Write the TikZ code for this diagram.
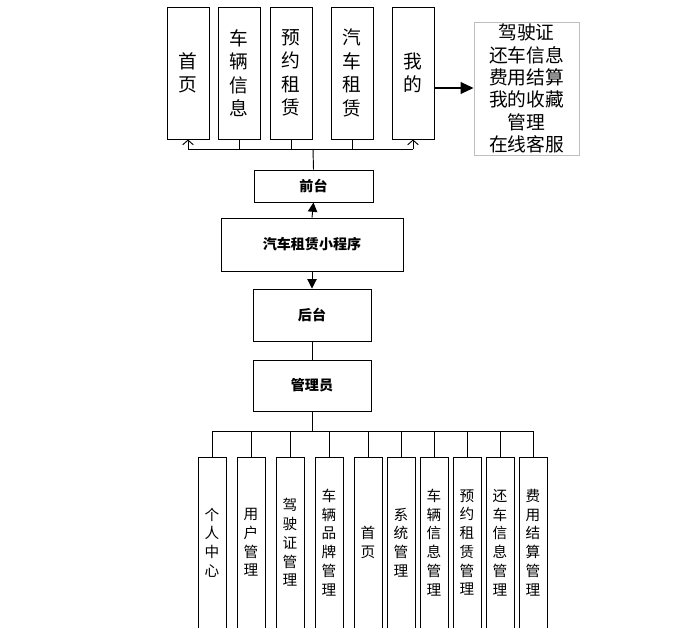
\documentclass[tikz,border=0pt]{standalone}
\usepackage{fontspec}
\setmainfont{Noto Sans CJK SC}
\usetikzlibrary{arrows.meta}
\tikzset{
  topbox/.style={draw,thick,minimum width=1.26cm,minimum height=3.96cm,inner sep=0pt,align=center,font=\fontsize{16}{20}\selectfont},
  midbox/.style={draw,thick,inner sep=0pt,font=\bfseries\fontsize{12}{14}\selectfont},
  subbox/.style={draw,thick,minimum width=0.84cm,minimum height=5.13cm,inner sep=0pt,align=center,font=\fontsize{12.5}{16}\selectfont},
}
\begin{document}
\begin{tikzpicture}[x=0.03cm,y=-0.03cm]
    \useasboundingbox (0,0) rectangle (678,628);
    % front end pages
    \node[topbox] (home) at (188,73) {首\\页};
    \node[topbox] (car) at (239,73) {车\\辆\\信\\息};
    \node[topbox] (book) at (291,73) {预\\约\\租\\赁};
    \node[topbox] (rent) at (352,73) {汽\\车\\租\\赁};
    \node[topbox] (mine) at (413,73) {我\\的};
    \node[draw=black!25,thick,minimum width=3.15cm,minimum height=3.99cm,inner sep=0pt,align=center,font=\fontsize{16}{19}\selectfont] (minelist) at (526.5,88.5) {驾驶证\\还车信息\\费用结算\\我的收藏\\管理\\在线客服};
    \draw[-{Triangle[length=11pt,width=10pt]},very thick] (mine.east |- 0,88) -- (minelist.west |- 0,88);
    % middle chain
    \node[midbox,minimum width=3.57cm,minimum height=0.96cm] (front) at (313.5,186) {前台};
    \node[midbox,minimum width=5.46cm,minimum height=1.59cm] (app) at (312,244.5) {汽车租赁小程序};
    \node[midbox,minimum width=3.54cm,minimum height=1.56cm] (back) at (312,315) {后台};
    \node[midbox,minimum width=3.54cm,minimum height=1.53cm] (admin) at (312,385.5) {管理员};
    \coordinate (topbus) at (313,149);
    \draw[thick] (front.north) -- (topbus);
    \draw[thick] (home.south |- topbus) -- (mine.south |- topbus);
    \foreach \n in {car,book,rent} \draw[thick] (\n.south) -- (\n.south |- topbus);
    \foreach \n in {home,mine} \draw[-{Straight Barb[length=4pt,width=9pt]},thick] (\n.south |- topbus) -- (\n.south);
    \draw[-{Triangle[length=8pt,width=8pt]},thick] (app.north) -- (front.south);
    \draw[-{Triangle[length=8pt,width=8pt]},thick] (app.south) -- (back.north);
    \draw[thick] (back.south) -- (admin.north);
    % admin functions
    \coordinate (botbus) at (312,431);
    \draw[thick] (admin.south) -- (botbus);
    \foreach \x/\t [count=\i] in {212/个\\人\\中\\心, 251/用\\户\\管\\理, 290/驾\\驶\\证\\管\\理, 329/车\\辆\\品\\牌\\管\\理, 368/首\\页, 401/系\\统\\管\\理, 434/车\\辆\\信\\息\\管\\理, 467/预\\约\\租\\赁\\管\\理, 500/还\\车\\信\\息\\管\\理, 533/费\\用\\结\\算\\管\\理}
      \node[subbox] (sub\i) at (\x,542.5) {\t};
    \draw[thick] (sub1.north |- botbus) -- (sub10.north |- botbus);
    \foreach \i in {1,...,10} \draw[thick] (sub\i.north |- botbus) -- (sub\i.north);
\end{tikzpicture}
\end{document}
